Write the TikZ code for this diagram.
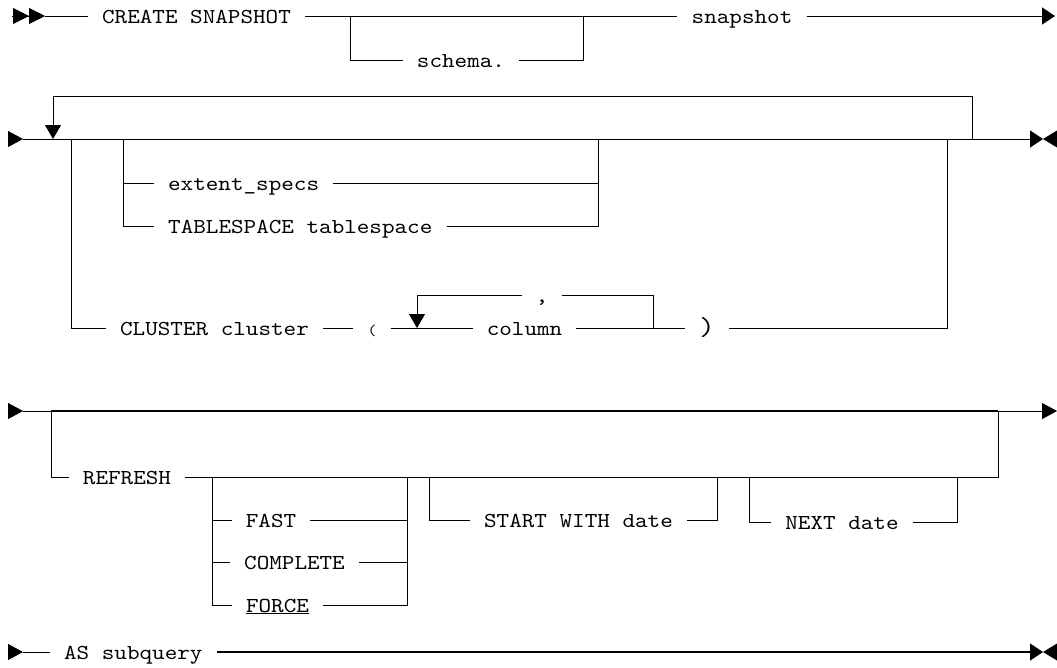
\documentclass[tikz,border=0pt]{standalone}
\usepackage{fontspec}
\newfontfamily\railfont{lmmono10-regular.otf}[FakeStretch=1.125]
\usetikzlibrary{arrows.meta,positioning,calc}
\tikzset{
  track/.style={draw=black, line width=0.8pt},
  trackbold/.style={draw=black, line width=1.6pt},
  word/.style={font=\railfont\fontsize{21.3}{21.3}\selectfont, inner xsep=14pt, inner ysep=0pt, text height=14pt, text depth=0pt},
  smallword/.style={word, font=\railfont\fontsize{15}{15}\selectfont},
  bigword/.style={word, font=\railfont\fontsize{26}{26}\selectfont},
  tip/.style={-{Triangle[length=15pt,width=16pt]}},
  looptip/.style={-{Triangle[length=14pt,width=16pt]}},
  bowtie/.style={fill=black}
}

\begin{document}
\begin{tikzpicture}[x=1pt, y=-1pt]
  \useasboundingbox (0,0) rectangle (1057,667);

  \coordinate (s1) at (12,16);
  \coordinate (a1) at (45,16);
  \coordinate (b1) at (350,16);
  \coordinate (b2) at (583,16);
  \coordinate (e1) at (1055,16);
  \node[word] (create) at (196.5,16) {CREATE SNAPSHOT};
  \node[word] (schema) at (461,60) {schema.};
  \node[word] (snap) at (742,16) {snapshot};
  \draw[track, -{Triangle[length=16pt,width=16pt,sep=0pt]Triangle[length=16pt,width=16pt]}] (s1) -- (a1);
  \draw[track] (a1) -- (create.west);
  \draw[track] (create.east) -- (snap.west);
  \draw[track] (b1) |- (schema.west);
  \draw[track] (schema.east) -| (b2);
  \draw[track, -{Triangle[length=13pt,width=17pt]}] (snap.east) -- (e1);

  \coordinate (s2) at (8,139);
  \coordinate (a2) at (23,139);
  \coordinate (e2) at (1043,139);
  \coordinate (l1) at (53,139);
  \coordinate (l2) at (972,139);
  \coordinate (o1) at (71,139);
  \coordinate (o2) at (947,139);
  \coordinate (i1) at (123,139);
  \coordinate (i2) at (598,139);
  \draw[track, tip] (s2) -- (a2);
  \draw[track, -{Triangle[length=13pt,width=17pt]}] (a2) -- (e2);
  \fill[bowtie] (1057,130.5) -- (e2) -- (1057,147.5) -- cycle;
  \draw[track, looptip] (l2) -- ++(0,-43) -| (l1);
  \node[word] (ext) at (243.6,183) {extent\_specs};
  \node[word] (tbs) at (300.3,226) {TABLESPACE tablespace};
  \draw[track] (i1) |- (ext.west);
  \draw[track] (i1) |- (tbs.west);
  \draw[track] (ext.east) -| (i2);
  \draw[track] (tbs.east) -| (i2);
  \node[word] (clus) at (214.5,328) {CLUSTER cluster};
  \node[smallword] (lp) at (372,328) {(};
  \node[word] (col) at (524.5,328) {column};
  \node[word] (comma) at (542,295) {,};
  \node[bigword] (rp) at (707,328) {)};
  \coordinate (c1) at (417,328);
  \coordinate (c2) at (653,328);
  \draw[track] (o1) |- (clus.west);
  \draw[track] (clus.east) -- (lp.west);
  \draw[track] (lp.east) -- (col.west);
  \draw[track] (col.east) -- (rp.west);
  \draw[track] (rp.east) -| (o2);
  \draw[track] (c2) |- (comma.east);
  \draw[track, looptip] (comma.west) -| (c1);

  \coordinate (s3) at (8,411);
  \coordinate (a3) at (23,411);
  \coordinate (r1) at (51,411);
  \coordinate (r2) at (998,411);
  \coordinate (e3) at (1057,411);
  \coordinate (f1) at (212,477);
  \coordinate (f2) at (407,477);
  \coordinate (sw1) at (429.5,477);
  \coordinate (sw2) at (717,477);
  \coordinate (nx1) at (749.5,477);
  \coordinate (nx2) at (957,477);
  \draw[track, tip] (s3) -- (a3);
  \draw[track] (a3) -- (r1);
  \draw[trackbold] (r1) -- (r2);
  \draw[track, tip] (r2) -- (e3);
  \node[word] (refr) at (127,477) {REFRESH};
  \draw[track] (r1) |- (refr.west);
  \draw[track] (refr.east) -| (r2);
  \node[word] (fast) at (271,520) {FAST};
  \node[word] (cmpl) at (294.5,562) {COMPLETE};
  \node[word] (force) at (277.5,605) {\underline{FORCE}};
  \draw[track] (f1) |- (fast.west);
  \draw[track] (f1) |- (cmpl.west);
  \draw[track] (f1) |- (force.west);
  \draw[track] (fast.east) -| (f2);
  \draw[track] (cmpl.east) -| (f2);
  \draw[track] (force.east) -| (f2);
  \node[word] (start) at (578.5,520) {START WITH date};
  \draw[track] (sw1) |- (start.west);
  \draw[track] (start.east) -| (sw2);
  \node[word] (next) at (842,522) {NEXT date};
  \draw[track] (nx1) |- (next.west);
  \draw[track] (next.east) -| (nx2);

  \coordinate (s4) at (8,652);
  \coordinate (a4) at (23,652);
  \coordinate (e4) at (1043,652);
  \node[word] (asq) at (133.3,652) {AS subquery};
  \draw[track, tip] (s4) -- (a4);
  \draw[track] (a4) -- (asq.west);
  \draw[track, line width=1.3pt, -{Triangle[length=13pt,width=17pt]}] (asq.east) -- (e4);
  \fill[bowtie] (1057,643.5) -- (e4) -- (1057,660.5) -- cycle;
\end{tikzpicture}
\end{document}
